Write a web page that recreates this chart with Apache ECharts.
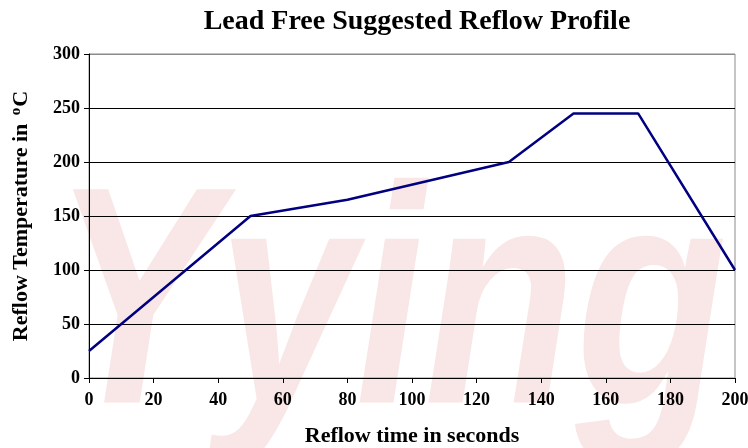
<!DOCTYPE html>
<html><head><meta charset="utf-8">
<script src="https://cdn.jsdelivr.net/npm/echarts@6/dist/echarts.min.js"></script>
<style>html,body{margin:0;padding:0;background:#fff}#c{width:748px;height:448px}</style>
</head><body><div id="c"></div>
<script>
const times = [0, 50, 80, 130, 150, 170, 200];
const temps = [25, 150, 165, 200, 245, 245, 100];
const xTicks = [0, 20, 40, 60, 80, 100, 120, 140, 160, 180, 200];
const yTicks = [0, 50, 100, 150, 200, 250, 300];
const titleText = 'Lead Free Suggested Reflow Profile';
const xName = 'Reflow time in seconds';
const watermark = 'Yying';

const serif = '"Liberation Serif", "Times New Roman", serif';
const chart = echarts.init(document.getElementById('c'));
chart.setOption({
  animation: false,
  backgroundColor: '#fff',
  title: {
    text: titleText, left: 412, top: 3, textAlign: 'center',
    textStyle: {fontFamily: serif, fontWeight: 'bold', fontSize: 28, color: '#000'}
  },
  graphic: [{
    type: 'text', x: 52, y: 162, scaleX: 0.8, z: -10, silent: true,
    style: {x: 0, y: 0, text: watermark, fontFamily: '"Liberation Sans", Arial, sans-serif',
      fontStyle: 'italic', fontWeight: 'bold', fontSize: 310, fill: '#f9e6e6'}
  }],
  grid: {left: 89, right: 13, top: 54, bottom: 70, outerBoundsMode: 'none', show: true, borderColor: '#8a8a8a', borderWidth: 1, backgroundColor: 'transparent'},
  xAxis: {
    type: 'value', min: xTicks[0], max: xTicks[xTicks.length - 1], interval: 20,
    name: xName, nameLocation: 'middle', nameGap: 47,
    nameTextStyle: {fontFamily: serif, fontWeight: 'bold', fontSize: 22, color: '#000'},
    axisLine: {lineStyle: {color: '#000', width: 1}},
    axisTick: {show: true, length: 5, lineStyle: {color: '#000'}},
    axisLabel: {fontFamily: serif, fontWeight: 'bold', fontSize: 18, color: '#000', margin: 13},
    splitLine: {show: false}
  },
  yAxis: {
    type: 'value', min: yTicks[0], max: yTicks[yTicks.length - 1], interval: 50,
    name: 'Reflow Temperature in {sup|o}C', nameLocation: 'middle', nameGap: 55, nameRotate: 90,
    nameTextStyle: {fontFamily: serif, fontWeight: 'bold', fontSize: 22, color: '#000',
      rich: {sup: {fontFamily: serif, fontWeight: 'bold', fontSize: 15, color: '#000', verticalAlign: 'top', padding: [0, 1, 10, 3]}}},
    axisLine: {show: true, lineStyle: {color: '#000', width: 1}},
    axisTick: {show: true, length: 5, lineStyle: {color: '#000'}},
    axisLabel: {fontFamily: serif, fontWeight: 'bold', fontSize: 18, color: '#000', margin: 9},
    splitLine: {show: true, lineStyle: {color: ['#000', '#000', '#000', '#000', '#000', '#000', '#8a8a8a'], width: 1}}
  },
  series: [{
    type: 'line', data: times.map((t, i) => [t, temps[i]]),
    showSymbol: false, symbol: 'none',
    lineStyle: {color: '#000080', width: 2.5}, z: 5
  }]
});
</script></body></html>
